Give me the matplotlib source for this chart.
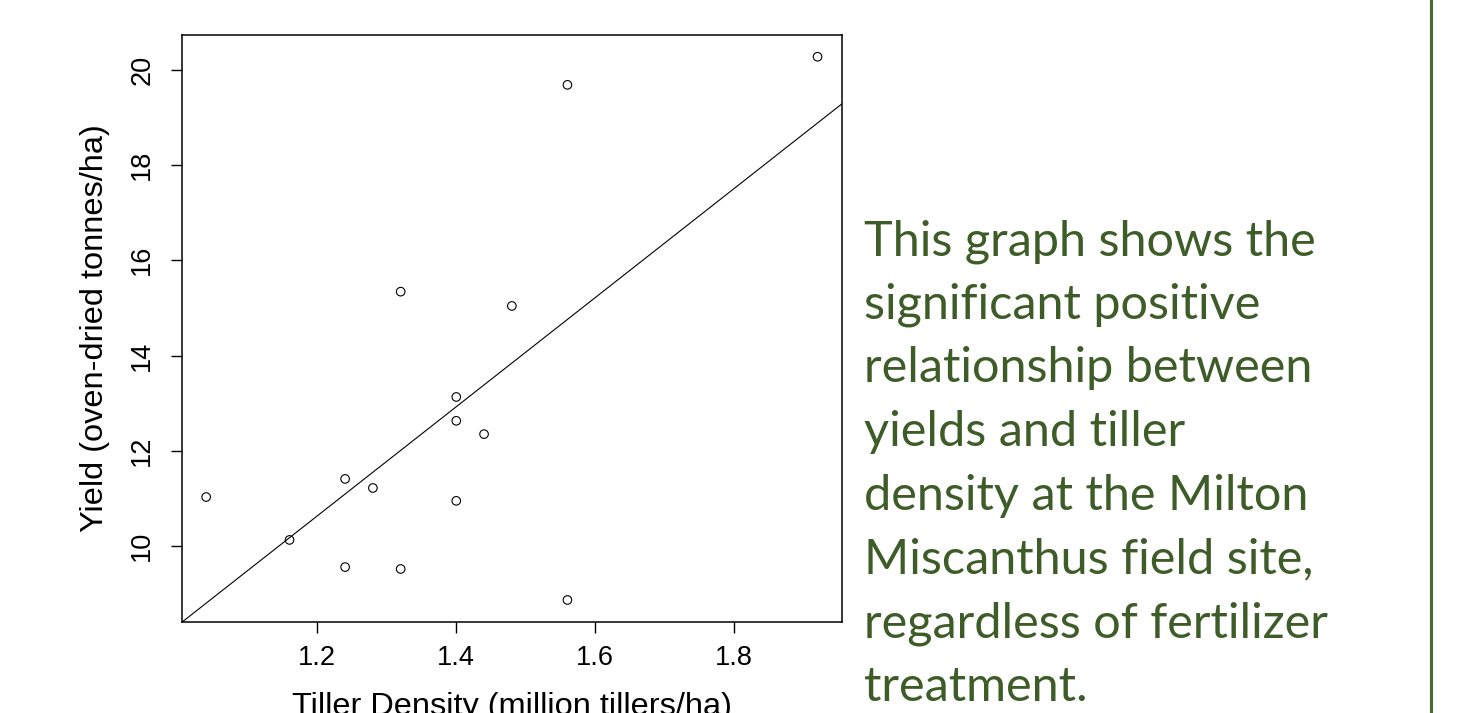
import matplotlib.pyplot as plt
from matplotlib.lines import Line2D
import numpy as np

# tiller density (million tillers/ha) and yield (oven-dried tonnes/ha)
tillers = [1.04, 1.16, 1.24, 1.24, 1.28, 1.32, 1.32, 1.40, 1.40, 1.40, 1.44, 1.48, 1.56, 1.56, 1.92]
yields = [11.03, 10.13, 11.41, 9.56, 11.22, 15.34, 9.52, 13.13, 12.63, 10.95, 12.35, 15.04, 19.68, 8.87, 20.27]

x_ticks = [1.2, 1.4, 1.6, 1.8]
y_ticks = [10, 12, 14, 16, 18, 20]

caption = ["This graph shows the",
           "significant positive",
           "relationship between",
           "yields and tiller",
           "density at the Milton",
           "Miscanthus field site,",
           "regardless of fertilizer",
           "treatment."]

W, H = 1468, 713
fig = plt.figure(figsize=(W / 100, H / 100), dpi=100)
fig.patch.set_facecolor("white")

ax = fig.add_axes([181.7 / W, (H - 621.7) / H, (842 - 181.7) / W, (621.7 - 35) / H])

ax.scatter(tillers, yields, s=38, facecolors="none", edgecolors="black", linewidths=0.8, zorder=3)

# least squares line, like abline(lm(y ~ x)) in R
slope, intercept = np.polyfit(tillers, yields, 1)
ax.axline((0, intercept), slope=slope, color="black", linewidth=0.8)

# R style 4% padding
xr = max(tillers) - min(tillers)
yr = max(yields) - min(yields)
ax.set_xlim(min(tillers) - 0.04 * xr, max(tillers) + 0.04 * xr)
ax.set_ylim(min(yields) - 0.04 * yr, max(yields) + 0.04 * yr)

ax.set_xticks(x_ticks)
ax.set_xticklabels([f"{t:.1f}" for t in x_ticks])
ax.set_yticks(y_ticks)
ax.set_yticklabels([str(t) for t in y_ticks], rotation=90, va="center")

for s in ax.spines.values():
    s.set_linewidth(1.1)
ax.tick_params(length=8, width=1.0, labelsize=19.5, pad=9,
               labelfontfamily="Liberation Sans")
ax.tick_params(axis="y", pad=11)

ax.set_xlabel("Tiller Density (million tillers/ha)", fontsize=23.4,
              family="Liberation Sans", labelpad=15)
ax.set_ylabel("Yield (oven-dried tonnes/ha)", fontsize=23.4,
              family="Liberation Sans", labelpad=14)

green = "#3d5c27"
for i, line in enumerate(caption):
    y = 255 + 63.7 * i
    fig.text(864 / W, 1 - y / H, line, fontsize=35, color=green,
             family="Lato", ha="left", va="baseline")

fig.add_artist(Line2D([1430.5 / W, 1430.5 / W], [0, 1], color="#4a6a34",
                      linewidth=2.2, transform=fig.transFigure))

fig.savefig("out.png", dpi=100)
